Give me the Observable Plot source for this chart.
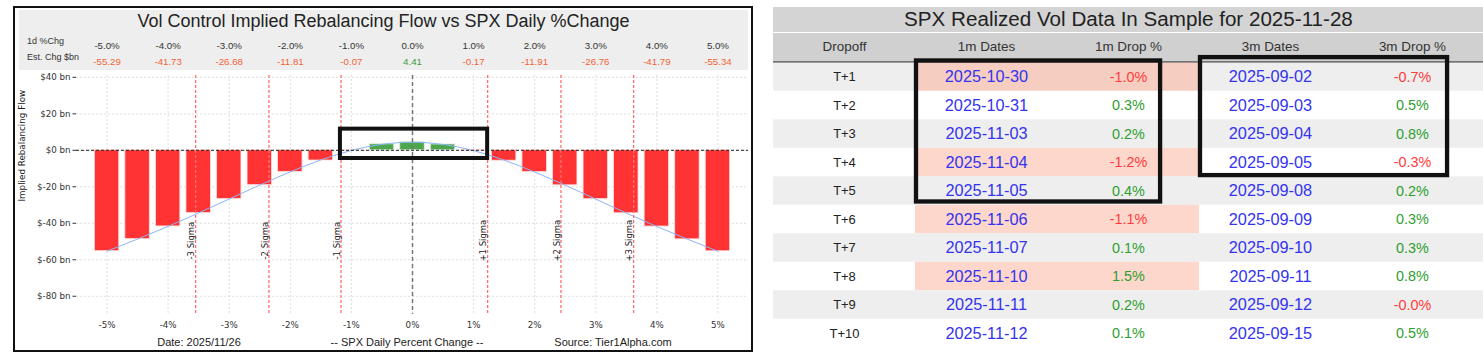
<!DOCTYPE html>
<html><head><meta charset="utf-8">
<script src="https://cdn.jsdelivr.net/npm/d3@7"></script>
<script src="https://cdn.jsdelivr.net/npm/@observablehq/plot@0.6"></script>
<style>
html,body{margin:0;padding:0;background:#fff;overflow:hidden;width:1483px;height:358px;}
#left{position:absolute;left:13px;top:6px;width:740px;height:346px;box-sizing:border-box;border:2px solid #111;background:#fff;}
#hdr{position:absolute;left:4px;top:2px;width:729px;height:60px;background:#eeeeee;}
#ltitle{position:absolute;left:4px;top:3.5px;width:729px;text-align:center;font:18px/18px "Liberation Sans",Arial,sans-serif;color:#222;white-space:nowrap;}
.lbl{position:absolute;left:12px;font:9px/9px "Liberation Sans",Arial,sans-serif;color:#333;white-space:nowrap;}
.foot{position:absolute;width:300px;top:329.4px;text-align:center;font:11px/11px "Liberation Sans",Arial,sans-serif;color:#222;white-space:nowrap;}
#chart{position:absolute;left:0;top:0;}
#right{position:absolute;left:773px;top:0;width:710px;height:358px;overflow:hidden;}
#tbar{position:absolute;left:0;top:7px;width:740px;height:25px;background:#d4d4d4;}
#hbar{position:absolute;left:0;top:33px;width:740px;height:31px;background:#d0d0d0;}
#table{position:absolute;left:0;top:0;}
</style></head>
<body>
<div id="left">
  <div id="hdr"></div>
  <div id="ltitle">Vol Control Implied Rebalancing Flow vs SPX Daily %Change</div>
  <div class="lbl" style="top:29.4px">1d %Chg</div>
  <div class="lbl" style="top:45.4px">Est. Chg $bn</div>
  <div id="chart"></div>
  <div class="foot" style="left:34px">Date: 2025/11/26</div>
  <div class="foot" style="left:242px">-- SPX Daily Percent Change --</div>
  <div class="foot" style="left:448px">Source: Tier1Alpha.com</div>
</div>
<div id="right">
  <div id="tbar"></div>
  <div id="hbar"></div>
  <div id="table"></div>
</div>
<script>
// ---------- Left chart data ----------
const pctLevels = [-5, -4.5, -4, -3.5, -3, -2.5, -2, -1.5, -1, -0.5, 0, 0.5, 1, 1.5, 2, 2.5, 3, 3.5, 4, 4.5, 5];
const flowValues = [-55.29, -48.7, -41.73, -34.4, -26.68, -19.1, -11.81, -5.6, -0.07, 3.3, 4.41, 3.2, -0.17, -5.7, -11.91, -19.2, -26.76, -34.5, -41.79, -48.8, -55.34];
const headerPct = [-5, -4, -3, -2, -1, 0, 1, 2, 3, 4, 5];
const headerPctLabels = ["-5.0%", "-4.0%", "-3.0%", "-2.0%", "-1.0%", "0.0%", "1.0%", "2.0%", "3.0%", "4.0%", "5.0%"];
const estChg = [-55.29, -41.73, -26.68, -11.81, -0.07, 4.41, -0.17, -11.91, -26.76, -41.79, -55.34];
const sigmaPos = [-3.55, -2.35, -1.17, 1.23, 2.43, 3.62];
const sigmaLabels = ["-3 Sigma", "-2 Sigma", "-1 Sigma", "+1 Sigma", "+2 Sigma", "+3 Sigma"];
const xTicks = [-5, -4, -3, -2, -1, 0, 1, 2, 3, 4, 5];
const yTicks = [40, 20, 0, -20, -40, -60, -80];
const highlightBox = [{x1: -1.18, x2: 1.23, y1: -4.5, y2: 11.6}];
const yLabel = "Implied Rebalancing Flow";

// ---------- Right table data ----------
const tableTitle = "SPX Realized Vol Data In Sample for 2025-11-28";
const columns = ["Dropoff", "1m Dates", "1m Drop %", "3m Dates", "3m Drop %"];
const dropoff = ["T+1", "T+2", "T+3", "T+4", "T+5", "T+6", "T+7", "T+8", "T+9", "T+10"];
const dates1m = ["2025-10-30", "2025-10-31", "2025-11-03", "2025-11-04", "2025-11-05", "2025-11-06", "2025-11-07", "2025-11-10", "2025-11-11", "2025-11-12"];
const drop1m = [-1.0, 0.3, 0.2, -1.2, 0.4, -1.1, 0.1, 1.5, 0.2, 0.1];
const dates3m = ["2025-09-02", "2025-09-03", "2025-09-04", "2025-09-05", "2025-09-08", "2025-09-09", "2025-09-10", "2025-09-11", "2025-09-12", "2025-09-15"];
const drop3m = [-0.7, 0.5, 0.8, -0.3, 0.2, 0.3, 0.3, 0.8, -0.02, 0.5];
const tableBoxes = [
  {x1: 1.007, x2: 2.726, y1: -0.067, y2: 4.882},
  {x1: 3.007, x2: 4.747, y1: -0.185, y2: 3.956}
];

// ---------- Left chart ----------
const RED = "#ff3333", GREEN = "#4ca64c", ORANGE = "#f26436";
const bars = pctLevels.map((x, i) => ({x, v: flowValues[i]}));
const curvePts = headerPct.map((x, i) => ({x, v: estChg[i]}));
const hdrRows = headerPct.map((x, i) => ({x, label: headerPctLabels[i], v: estChg[i]}));
const sigmas = sigmaPos.map((x, i) => ({x, label: sigmaLabels[i]}));
const LF = "Liberation Sans, Arial, sans-serif";

const left = Plot.plot({
  width: 736, height: 342,
  marginLeft: 61, marginRight: 3, marginTop: 67, marginBottom: 36,
  style: {background: "transparent", fontFamily: "DejaVu Sans, sans-serif", fontSize: "8.7px", color: "#333", overflow: "visible"},
  x: {domain: [-5.5, 5.5], ticks: xTicks, tickFormat: d => `${d}%`, tickSize: 0, tickPadding: 7, label: null},
  y: {domain: [-90, 41], ticks: yTicks, tickFormat: d => `$${d} bn`, tickSize: 3.5, tickPadding: 2.5, label: null},
  marks: [
    Plot.ruleX(xTicks, {stroke: "#d6d6d6", strokeDasharray: "2,2", strokeWidth: 0.8}),
    Plot.ruleY(yTicks, {stroke: "#d6d6d6", strokeDasharray: "2,2", strokeWidth: 0.8}),
    Plot.rect(bars.filter(d => d.v < 0), {x1: d => d.x - 0.2, x2: d => d.x + 0.2, y1: 0, y2: "v", fill: RED, stroke: "#ffdede", strokeWidth: 0.8}),
    Plot.rect(bars.filter(d => d.v >= 0), {x1: d => d.x - 0.2, x2: d => d.x + 0.2, y1: 0, y2: "v", fill: GREEN, stroke: "#dcefdc", strokeWidth: 0.8}),
    Plot.line(curvePts, {x: "x", y: "v", curve: "natural", stroke: "#8db4f7", strokeWidth: 1}),
    Plot.ruleY([0], {stroke: "#222", strokeDasharray: "3,2", strokeWidth: 1}),
    Plot.ruleX([0], {stroke: "#777", strokeDasharray: "4,3", strokeWidth: 1.5}),
    Plot.ruleX(sigmas, {x: "x", stroke: "#ff7070", strokeDasharray: "3,2", strokeWidth: 1.3}),
    Plot.text(sigmas, {x: "x", y: -49.5, text: "label", rotate: -90, dx: -4, fontSize: 8.5, fill: "#222"}),
    Plot.rect(highlightBox, {x1: "x1", x2: "x2", y1: "y1", y2: "y2", fill: "none", stroke: "#111", strokeWidth: 4}),
    Plot.text(hdrRows, {x: "x", text: "label", frameAnchor: "top", dy: -33.2, fontSize: 9.7, fontFamily: LF, fill: "#333"}),
    Plot.text(hdrRows.filter(d => d.v < 0), {x: "x", text: d => d.v.toFixed(2), frameAnchor: "top", dy: -17.2, fontSize: 9.7, fontFamily: LF, fill: ORANGE}),
    Plot.text(hdrRows.filter(d => d.v >= 0), {x: "x", text: d => d.v.toFixed(2), frameAnchor: "top", dy: -17.2, fontSize: 9.7, fontFamily: LF, fill: "#3c9c3c"}),
    Plot.text([yLabel], {text: d => d, frameAnchor: "left", rotate: -90, dx: -54.8, dy: 6.5, fontSize: 8.75, fill: "#222"})
  ]
});
document.getElementById("chart").appendChild(left);

// ---------- Right table ----------
const BLUE = "#3434f0", TGREEN = "#2f9e2f", TRED = "#ff3b3b";
const cells = [];
dropoff.forEach((t, r) => {
  const base = r % 2 === 0 ? "#eeeeee" : "#ffffff";
  const salmon = r % 2 === 0 ? "#f6cdc1" : "#fdd7cb";
  const hot = Math.abs(drop1m[r]) >= 1;
  cells.push({c: 0, r, t, fg: "#222", bg: base});
  cells.push({c: 1, r, t: dates1m[r], fg: BLUE, bg: hot ? salmon : base});
  cells.push({c: 2, r, t: drop1m[r].toFixed(1) + "%", fg: drop1m[r] < 0 ? TRED : TGREEN, bg: hot ? salmon : base});
  cells.push({c: 3, r, t: dates3m[r], fg: BLUE, bg: base});
  cells.push({c: 4, r, t: drop3m[r].toFixed(1) + "%", fg: drop3m[r] < 0 ? TRED : TGREEN, bg: base});
});
const cx = d => d.c + 0.5, cy = d => d.r + 0.5;

const tbl = Plot.plot({
  width: 740, height: 362,
  marginTop: 65, marginBottom: 0, marginLeft: 0, marginRight: 0,
  style: {background: "transparent", fontFamily: LF, overflow: "visible"},
  x: {domain: [0, 5], axis: null},
  y: {domain: [0, 10], reverse: true, axis: null},
  color: {type: "identity"},
  marks: [
    Plot.rect(cells, {x1: "c", x2: d => d.c + 1, y1: "r", y2: d => d.r + 1, fill: "bg"}),
    Plot.ruleY([0], {stroke: "#555", strokeWidth: 1.5, dy: -1}),
    Plot.text(cells.filter(d => d.c === 0), {x: cx, y: cy, text: "t", fill: "fg", fontSize: 13.5}),
    Plot.text(cells.filter(d => d.c === 1 || d.c === 3), {x: cx, y: cy, text: "t", fill: "fg", fontSize: 17}),
    Plot.text(cells.filter(d => d.c === 2 || d.c === 4), {x: cx, y: cy, text: "t", fill: "fg", fontSize: 15}),
    Plot.text(columns, {x: (d, i) => i + 0.5, y: -0.55, text: d => d, fontSize: 14, fill: "#333"}),
    Plot.text([tableTitle], {x: 2.5, y: -1.52, text: d => d, fontSize: 21.5, fill: "#222"}),
    Plot.rect(tableBoxes, {x1: "x1", x2: "x2", y1: "y1", y2: "y2", fill: "none", stroke: "#111", strokeWidth: 4.5})
  ]
});
document.getElementById("table").appendChild(tbl);
</script>
</body></html>
